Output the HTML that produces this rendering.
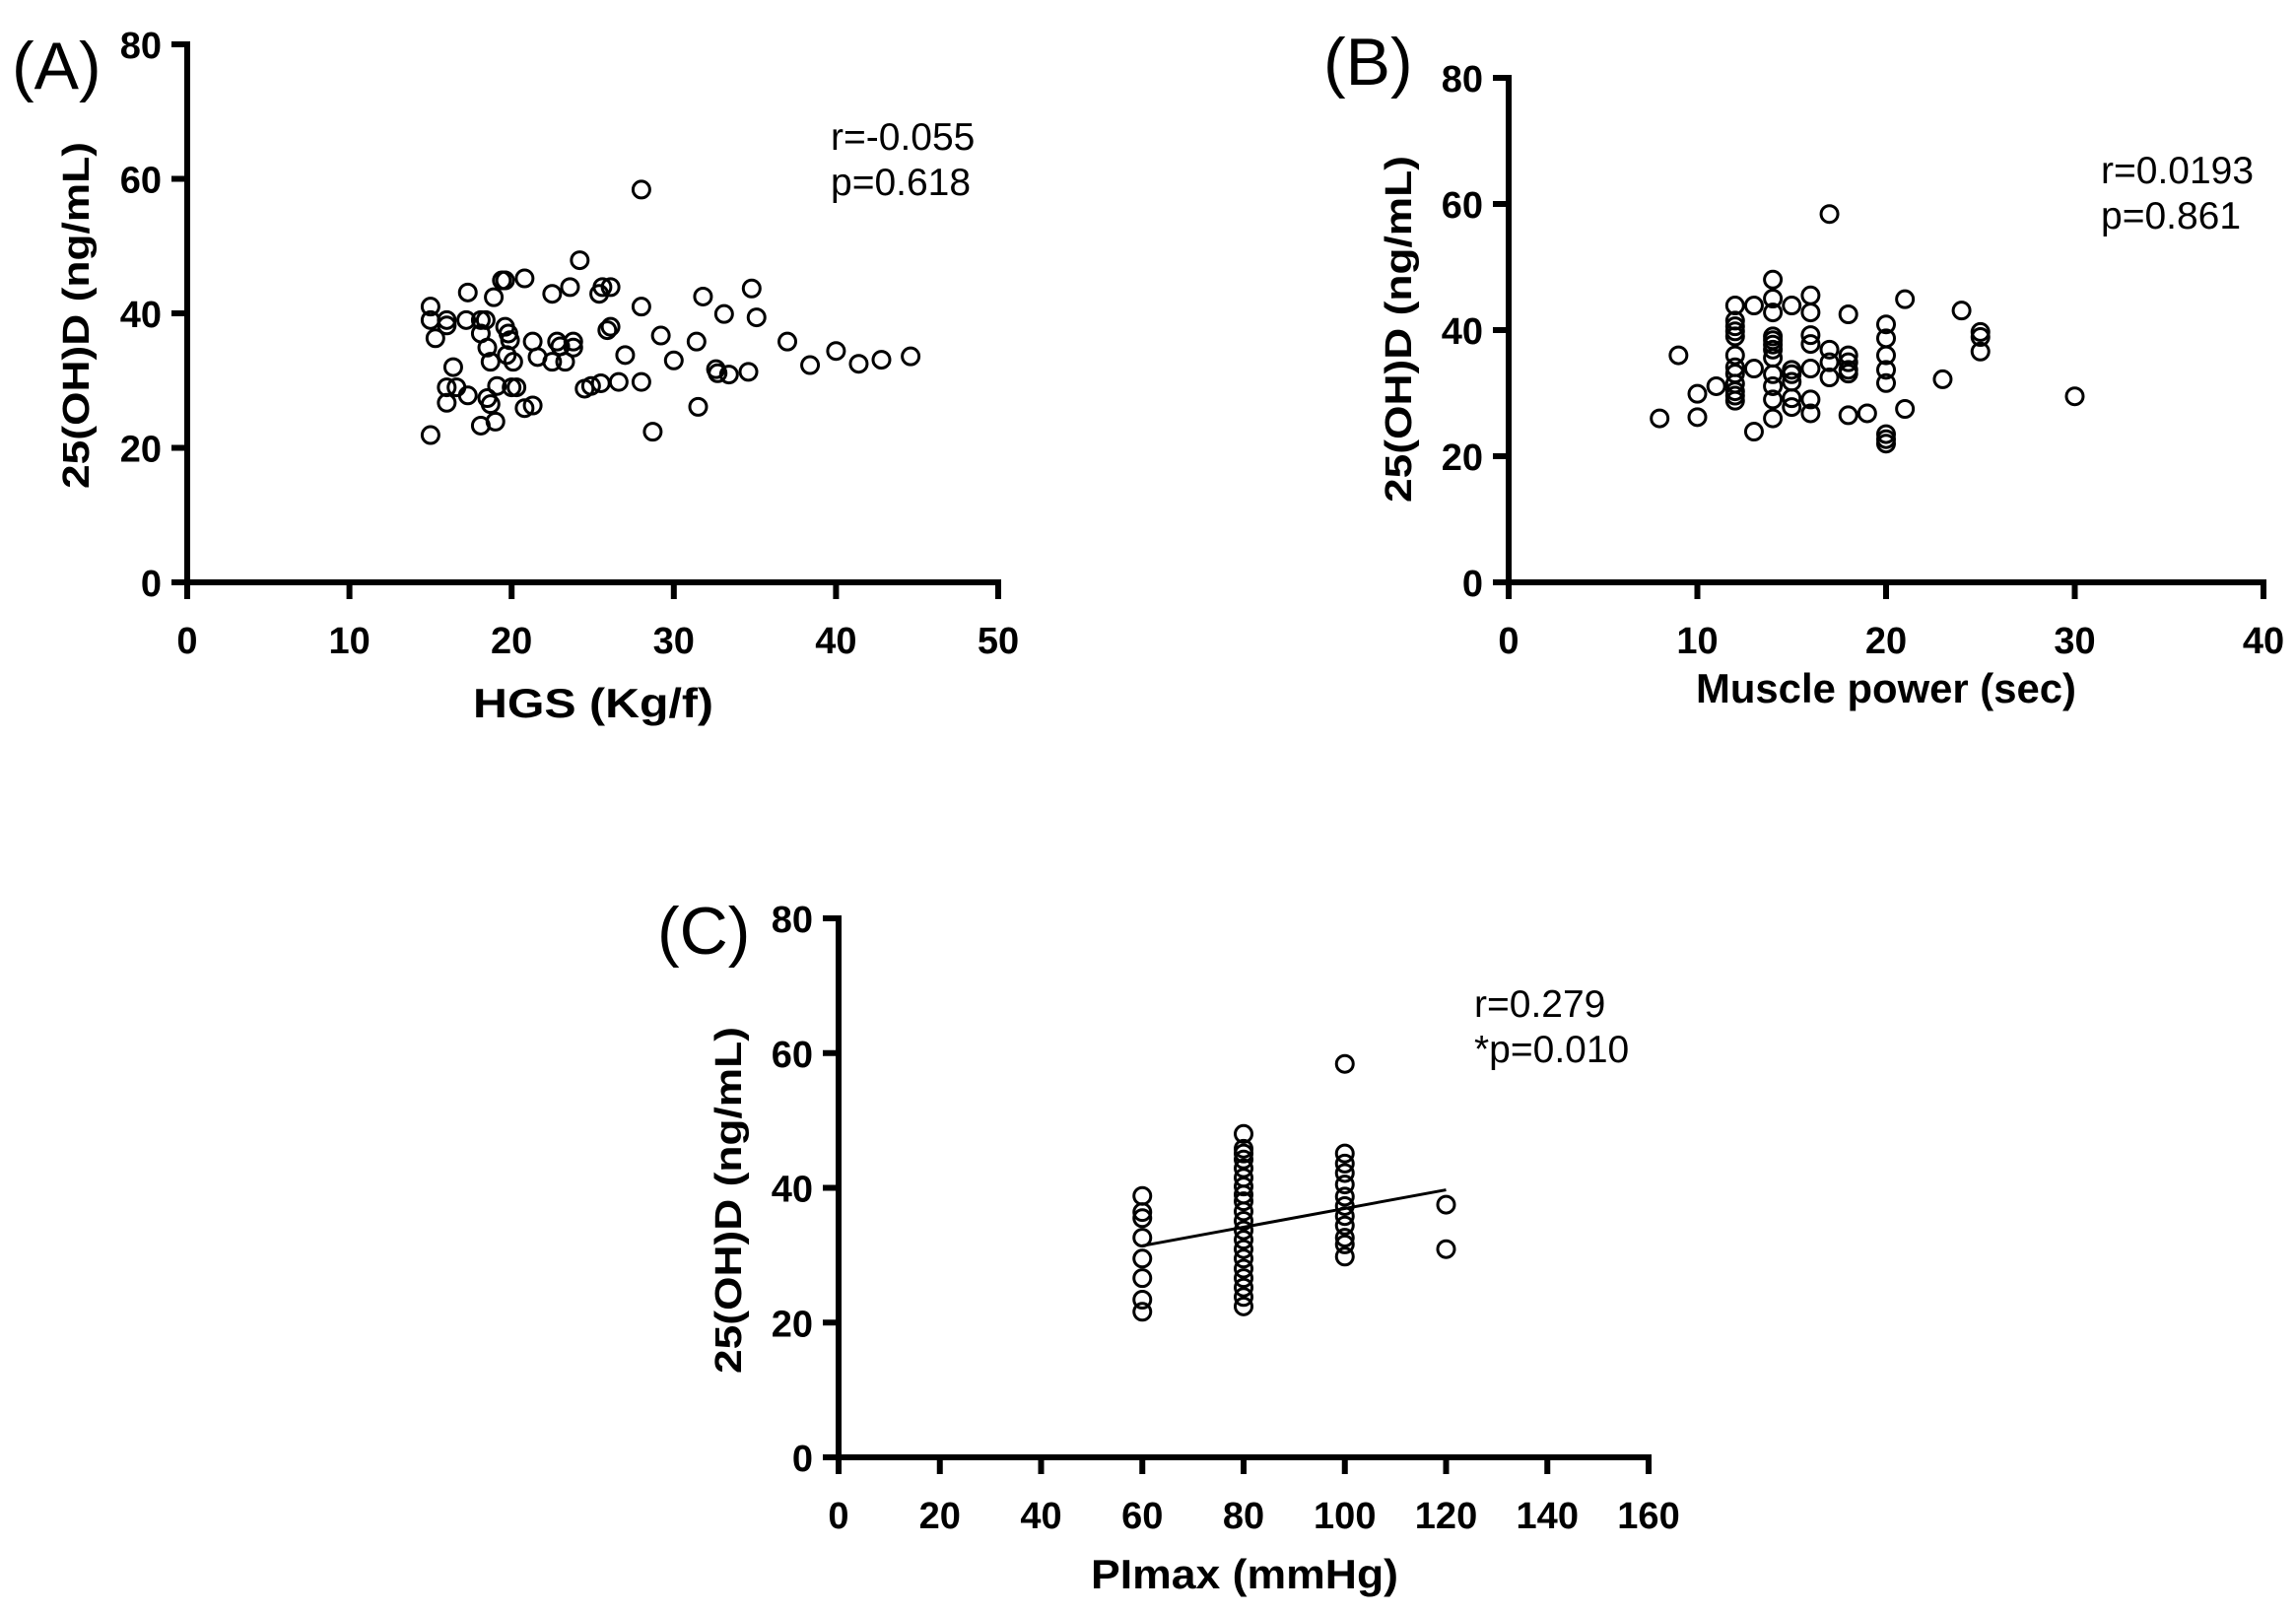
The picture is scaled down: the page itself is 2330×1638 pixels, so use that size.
<!DOCTYPE html>
<html><head><meta charset="utf-8"><style>
html,body{margin:0;padding:0;background:#fff}
svg{display:block}
.tk{font-family:"Liberation Sans Narrow","Liberation Sans",sans-serif;font-weight:bold;font-size:38px;fill:#000}
.ti{font-family:"Liberation Sans Narrow","Liberation Sans",sans-serif;font-weight:bold;font-size:42px;fill:#000}
.yt{font-family:"Liberation Sans",sans-serif;font-weight:bold;font-size:38px;fill:#000}
.an{font-family:"Liberation Sans Narrow","Liberation Sans",sans-serif;font-size:39px;fill:#000}
.pl{font-family:"Liberation Sans",sans-serif;font-size:68px;fill:#000}
</style></head><body>
<svg id="fig" width="2330" height="1638" viewBox="0 0 2330 1638" xmlns="http://www.w3.org/2000/svg"></svg>
<script>
// Panel A data: HGS vs 25(OH)D
const hgsX = [15,15,15.3,15,16,16,16.4,16,16,16.6,17.2,17.3,17.3,18.1,18.1,18.1,18.4,18.5,18.5,18.7,18.9,18.7,19,19.1,19.4,19.6,19.6,19.8,19.9,19.7,20.1,20,20.3,20.8,20.8,21.3,21.3,21.6,22.5,22.5,22.8,23,23.3,23.6,23.8,23.8,24.2,24.5,24.9,25.5,25.4,25.6,26.1,25.9,26.1,26.6,27,28,28,28,28.7,29.2,30,31.4,31.5,31.8,32.6,32.7,33.1,33.4,34.6,34.8,35.1,37,38.4,40,41.4,42.8,44.6];
const hgsY = [41,39,36.3,21.9,39,38.2,32,29,26.7,29,39,43.1,27.8,39,37,23.3,39,34.9,27.4,26.5,42.4,32.8,23.9,29.2,44.9,44.9,38,37,36,33.8,32.8,29,29,45.2,25.9,26.3,35.8,33.5,42.9,32.8,35.8,35.1,32.8,43.9,35.8,34.9,47.9,28.8,29.2,29.6,42.9,43.9,43.9,37.5,38,29.8,33.8,58.4,41,29.8,22.4,36.7,33,35.8,26.1,42.5,31.7,31.1,39.9,30.9,31.3,43.7,39.4,35.8,32.3,34.4,32.5,33.1,33.6];
// Panel B data: muscle power vs 25(OH)D
const mpX = [8,9,10,10,11,12,12,12,12,12,12,12,12,12,12,12,12,13,13,13,14,14,14,14,14,14,14,14,14,14,14,14,15,15,15,15,15,15,16,16,16,16,16,16,16,17,17,17,17,18,18,18,18,18,18,19,20,20,20,20,20,20,20,20,21,21,23,24,25,25,25,30];
const mpY = [26,36,29.9,26.2,31.1,43.9,41.5,40.6,39.8,39,36,34.1,33.1,31.5,30.3,29.6,28.8,43.9,33.9,23.9,48,45,42.8,39,38.4,37.7,36.9,35.6,33,31.1,29,26,43.9,33.7,33,31.8,29.2,27.8,45.5,42.8,39.2,37.8,33.9,29,26.8,58.4,36.9,34.9,32.5,42.5,36,34.9,33.7,33.1,26.5,26.8,40.9,38.7,36,33.7,31.6,23.5,22.7,22,44.9,27.5,32.2,43.1,39.7,38.9,36.6,29.5];
// Panel C data: PImax vs 25(OH)D
const piX = [60,60,60,60,60,60,60,60,80,80,80,80,80,80,80,80,80,80,80,80,80,80,80,80,80,80,80,80,100,100,100,100,100,100,100,100,100,100,100,100,120,120];
const piY = [38.8,36.4,35.5,32.6,29.5,26.6,23.4,21.6,48,45.8,45.1,44.2,42.9,41.5,40.2,39,38,36.5,35.1,33.7,32.3,30.9,29.5,28,26.6,25.2,23.8,22.4,58.4,45.1,43.6,42.2,40.5,38.7,37.3,35.8,34.4,32.6,31.6,29.8,37.5,30.9];
const fitX = [60,120];
const fitY = [31.4,39.7];
const yTicks = [0,20,40,60,80];
const xTicksA = [0,10,20,30,40,50];
const xTicksB = [0,10,20,30,40];
const xTicksC = [0,20,40,60,80,100,120,140,160];

const NS = "http://www.w3.org/2000/svg";
const svg = document.getElementById('fig');
function mk(tag, attrs, parent){
  const e = document.createElementNS(NS, tag);
  for (const k in attrs) e.setAttribute(k, attrs[k]);
  (parent||svg).appendChild(e);
  return e;
}
function panel(cfg){
  const g = mk('g', {});
  
  
  const sx = v => cfg.x0 + (v - cfg.xmin) / (cfg.xmax - cfg.xmin) * (cfg.x1 - cfg.x0);
  const sy = v => cfg.y0 - v / 80 * (cfg.y0 - cfg.y1);
  const ya = mk('line', {x1:cfg.x0, y1:cfg.y1-3, x2:cfg.x0, y2:cfg.y0+3, stroke:'#000','stroke-width':6}, g);
  
  
  const xa = mk('line', {x1:cfg.x0-3, y1:cfg.y0, x2:cfg.x1+3, y2:cfg.y0, stroke:'#000','stroke-width':6}, g);
  
  
  yTicks.forEach(t => {
    mk('line', {x1:cfg.x0-16, y1:sy(t), x2:cfg.x0, y2:sy(t), stroke:'#000','stroke-width':6}, g);
    const tx = mk('text', {x:cfg.x0-26, y:sy(t)+14, 'text-anchor':'end', class:'tk'}, g);
    tx.textContent = t;
    
    
  });
  cfg.xt.forEach(t => {
    mk('line', {x1:sx(t), y1:cfg.y0, x2:sx(t), y2:cfg.y0+17, stroke:'#000','stroke-width':6}, g);
    const tx = mk('text', {x:sx(t), y:cfg.y0+72, 'text-anchor':'middle', class:'tk'}, g);
    tx.textContent = t;
    
    
  });
  if (cfg.fx){
    const ln = mk('line', {x1:sx(cfg.fx[0]), y1:sy(cfg.fy[0]), x2:sx(cfg.fx[1]), y2:sy(cfg.fy[1]), stroke:'#000','stroke-width':3}, g);
    
    
  }
  cfg.xs.forEach((v,i) => {
    const c = mk('circle', {cx:sx(v), cy:sy(cfg.ys[i]), r:8.5, fill:'none', stroke:'#000','stroke-width':3}, g);
    
    
  });
  const xt = mk('text', {x:cfg.xtx, y:cfg.xty, 'text-anchor':'middle', class:'ti', textLength:cfg.xtw, lengthAdjust:'spacingAndGlyphs'}, g);
  xt.textContent = cfg.xtitle;
  
  
  const yt = mk('text', {x:0, y:0, 'text-anchor':'middle', class:'yt', textLength:352, lengthAdjust:'spacingAndGlyphs', transform:'translate('+cfg.ytx+','+cfg.yty+') rotate(-90)'}, g);
  yt.textContent = '25(OH)D (ng/mL)';
  
  
  const pl = mk('text', {x:cfg.plx, y:cfg.ply, class:'pl'}, g);
  pl.textContent = cfg.label;
  
  
  cfg.ann.forEach((s,i) => {
    const a = mk('text', {x:cfg.anx, y:cfg.any + i*46, class:'an'}, g);
    a.textContent = s;
    
    
  });
}
panel({id:'a', x0:190, x1:1013, xmin:0, xmax:50, y0:591, y1:45, xt:xTicksA, xs:hgsX, ys:hgsY,
  xtitle:'HGS  (Kg/f)', xtx:602, xty:728, xtw:244, ytx:90, yty:320, label:'(A)', plx:12, ply:90,
  ann:['r=-0.055','p=0.618'], anx:843, any:152});
panel({id:'b', x0:1531, x1:2297, xmin:0, xmax:40, y0:591, y1:79, xt:xTicksB, xs:mpX, ys:mpY,
  xtitle:'Muscle power (sec)', xtx:1914, xty:713, xtw:386, ytx:1432, yty:334, label:'(B)', plx:1343, ply:86,
  ann:['r=0.0193','p=0.861'], anx:2132, any:186});
panel({id:'c', x0:851, x1:1673, xmin:0, xmax:160, y0:1479, y1:932, xt:xTicksC, xs:piX, ys:piY, fx:fitX, fy:fitY,
  xtitle:'PImax (mmHg)', xtx:1263, xty:1612, xtw:312, ytx:752, yty:1218, label:'(C)', plx:667, ply:968,
  ann:['r=0.279','*p=0.010'], anx:1496, any:1032});
</script>
</body></html>
